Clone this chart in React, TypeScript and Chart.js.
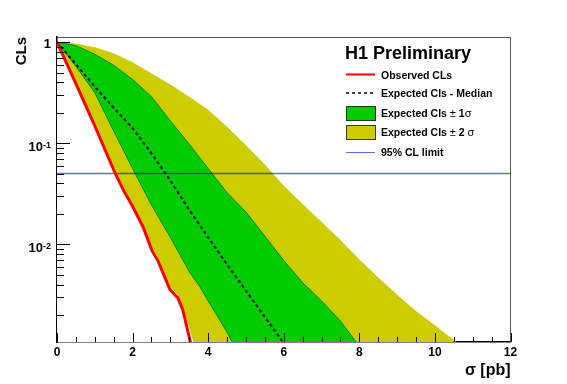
import React, { useEffect, useRef } from 'react';
import { Chart, registerables } from 'chart.js';

Chart.register(...registerables);

const FONT = "'Liberation Sans', Arial, Helvetica, sans-serif";

// ---- axis ranges & ticks ----
const X_MIN = 0;
const X_MAX = 12;
const Y_MIN = 0.00108;
const Y_MAX = 1.123;

const X_MAJOR_TICKS = [0, 2, 4, 6, 8, 10, 12];
const X_MINOR_TICKS = [0.5, 1, 1.5, 2.5, 3, 3.5, 4.5, 5, 5.5, 6.5, 7, 7.5, 8.5, 9, 9.5, 10.5, 11, 11.5];
const Y_MAJOR_TICKS = [1, 0.1, 0.01];
const Y_TICK_BASE = ['1', '10', '10'];
const Y_TICK_EXP = ['', '-1', '-2'];
const Y_DECADES = [0.001, 0.01, 0.1];
const Y_MINOR_MULT = [2, 3, 4, 5, 6, 7, 8, 9];

const CL_LIMIT = 0.05;

// ---- series (sigma in pb, CLs) ----
const OBS_X = [0, 0.5, 1.0, 1.53, 1.75, 2.01, 2.28, 2.51, 2.67, 2.99, 3.2, 3.33, 3.55];
const OBS_Y = [1, 0.389, 0.148, 0.0513, 0.0347, 0.0234, 0.0148, 0.0087, 0.0069, 0.00355, 0.00295, 0.00224, 0.001];

const MED_X = [0, 0.5, 1.0, 1.5, 2.0, 2.5, 3.0, 3.5, 4.0, 4.5, 5.0, 5.5, 6.0, 6.03];
const MED_Y = [1, 0.603, 0.363, 0.224, 0.141, 0.0794, 0.0427, 0.0219, 0.0117, 0.00631, 0.00347, 0.00191, 0.00105, 0.001];

const P1S_X = [0, 0.5, 1.0, 1.5, 2.0, 2.5, 3.0, 3.5, 4.0, 4.5, 5.0, 5.5, 6.0, 6.5, 7.0, 7.5, 7.98];
const P1S_Y = [1, 0.923, 0.759, 0.589, 0.427, 0.288, 0.166, 0.0977, 0.0562, 0.0324, 0.0209, 0.012, 0.00692, 0.00417, 0.00275, 0.00174, 0.001];

const M1S_X = [0, 0.5, 1.0, 1.5, 2.0, 2.5, 3.0, 3.5, 3.78, 4.0, 4.5, 4.68];
const M1S_Y = [1, 0.575, 0.316, 0.132, 0.0562, 0.0245, 0.0117, 0.00537, 0.0038, 0.00275, 0.00135, 0.001];

const P2S_X = [0, 0.5, 1.0, 1.5, 2.0, 2.5, 3.0, 3.5, 4.0, 4.5, 5.0, 5.5, 6.0, 6.5, 7.0, 7.5, 8.0, 8.5, 9.0, 9.5, 10.0, 10.68];
const P2S_Y = [1, 0.966, 0.891, 0.776, 0.631, 0.49, 0.38, 0.288, 0.214, 0.145, 0.0955, 0.0617, 0.038, 0.0251, 0.0166, 0.011, 0.00708, 0.00468, 0.00316, 0.00219, 0.00158, 0.001];

const M2S_X = [0, 0.5, 1.0, 1.53, 2.01, 2.51, 2.67, 2.99, 3.2, 3.33, 3.64];
const M2S_Y = [1, 0.398, 0.155, 0.0537, 0.0245, 0.00933, 0.00741, 0.0038, 0.00316, 0.0024, 0.001];

// ---- legend ----
const LEGEND_TITLE = 'H1 Preliminary';
const LEGEND_OBS = 'Observed CLs';
const LEGEND_MED = 'Expected Cls - Median';
const LEGEND_1S = ['Expected Cls ', '±', ' 1', 'σ'];
const LEGEND_2S = ['Expected Cls ', '±', ' 2 ', 'σ'];
const LEGEND_LIMIT = '95% CL limit';

const X_TITLE = 'σ [pb]';
const Y_TITLE = 'CLs';

const C_RED = '#ff0000';
const C_GREEN = '#00cc00';
const C_GREEN_EDGE = '#008a00';
const C_YELLOW = '#cccc00';
const C_BLUE = 'rgba(0,0,255,0.6)';

const zip = (xs: number[], ys: number[]) => xs.map((x, i) => ({ x, y: ys[i] }));

const decorPlugin = {
  id: 'decor',
  afterDatasetsDraw(chart: any) {
    const { ctx, chartArea: a } = chart;
    const xs = chart.scales.x;
    const ys = chart.scales.y;
    ctx.save();
    ctx.strokeStyle = '#000';
    ctx.lineWidth = 1;
    ctx.beginPath();
    X_MAJOR_TICKS.forEach((v) => {
      const px = Math.round(xs.getPixelForValue(v)) + 0.5;
      ctx.moveTo(px, a.bottom);
      ctx.lineTo(px, a.bottom - 9);
    });
    X_MINOR_TICKS.forEach((v) => {
      const px = Math.round(xs.getPixelForValue(v)) + 0.5;
      ctx.moveTo(px, a.bottom);
      ctx.lineTo(px, a.bottom - 5);
    });
    Y_MAJOR_TICKS.forEach((v) => {
      const py = Math.round(ys.getPixelForValue(v)) + 0.5;
      ctx.moveTo(a.left, py);
      ctx.lineTo(a.left + 13, py);
    });
    Y_DECADES.forEach((d) =>
      Y_MINOR_MULT.forEach((m) => {
        const v = d * m;
        if (v < Y_MIN || v > Y_MAX) return;
        const py = Math.round(ys.getPixelForValue(v)) + 0.5;
        ctx.moveTo(a.left, py);
        ctx.lineTo(a.left + 7, py);
      })
    );
    ctx.stroke();
    // top & right frame
    ctx.strokeStyle = '#555';
    ctx.beginPath();
    ctx.moveTo(a.left, Math.round(a.top) + 0.5);
    ctx.lineTo(Math.round(a.right) - 0.5, Math.round(a.top) + 0.5);
    ctx.lineTo(Math.round(a.right) - 0.5, a.bottom);
    ctx.stroke();
    ctx.restore();
  },
  afterDraw(chart: any) {
    const { ctx, chartArea: a } = chart;
    const ys = chart.scales.y;
    ctx.save();
    ctx.fillStyle = '#000';
    ctx.textBaseline = 'alphabetic';
    ctx.textAlign = 'left';
    // y tick labels with superscripts
    Y_MAJOR_TICKS.forEach((v, i) => {
      const py = ys.getPixelForValue(v);
      const base = Y_TICK_BASE[i];
      const exp = Y_TICK_EXP[i];
      ctx.font = `bold 13px ${FONT}`;
      const wb = ctx.measureText(base).width;
      ctx.font = `bold 9px ${FONT}`;
      const we = exp ? ctx.measureText(exp).width : 0;
      const right = a.left - 6;
      const x0 = right - wb - we;
      ctx.font = `bold 13px ${FONT}`;
      ctx.fillText(base, x0, py + (exp ? 8 : 5.5));
      if (exp) {
        ctx.font = `bold 9px ${FONT}`;
        ctx.fillText(exp, x0 + wb, py + 4.5);
      }
    });

    // legend
    const lx0 = 346;
    const lx1 = 375;
    const tx = 381;
    ctx.font = `bold 18px ${FONT}`;
    ctx.fillText(LEGEND_TITLE, 345, 59);

    const bold = `bold 10.5px ${FONT}`;
    const sym = `11px ${FONT}`;
    const drawSegs = (segs: string[], fonts: string[], x: number, y: number) => {
      segs.forEach((s, i) => {
        ctx.font = fonts[i];
        ctx.fillText(s, x, y);
        x += ctx.measureText(s).width;
      });
    };

    // observed
    ctx.strokeStyle = C_RED;
    ctx.lineWidth = 2;
    ctx.beginPath();
    ctx.moveTo(lx0, 74.5);
    ctx.lineTo(lx1, 74.5);
    ctx.stroke();
    ctx.font = bold;
    ctx.fillText(LEGEND_OBS, tx, 78.5);

    // median
    ctx.strokeStyle = '#000';
    ctx.lineWidth = 1.5;
    ctx.setLineDash([3, 3]);
    ctx.beginPath();
    ctx.moveTo(lx0, 93);
    ctx.lineTo(lx1, 93);
    ctx.stroke();
    ctx.setLineDash([]);
    ctx.font = bold;
    ctx.fillText(LEGEND_MED, tx, 96.5);

    // 1 sigma box
    ctx.fillStyle = C_GREEN;
    ctx.fillRect(lx0, 106, lx1 - lx0, 14);
    ctx.strokeStyle = '#1a3a1a';
    ctx.lineWidth = 1;
    ctx.strokeRect(lx0 + 0.5, 106.5, lx1 - lx0, 14);
    ctx.fillStyle = '#000';
    drawSegs(LEGEND_1S, [bold, sym, bold, sym], tx, 117);

    // 2 sigma box
    ctx.fillStyle = C_YELLOW;
    ctx.fillRect(lx0, 125, lx1 - lx0, 14);
    ctx.strokeStyle = '#3a3a1a';
    ctx.strokeRect(lx0 + 0.5, 125.5, lx1 - lx0, 14);
    ctx.fillStyle = '#000';
    drawSegs(LEGEND_2S, [bold, sym, bold, sym], tx, 136);

    // limit
    ctx.strokeStyle = C_BLUE;
    ctx.lineWidth = 1;
    ctx.beginPath();
    ctx.moveTo(lx0, 152.5);
    ctx.lineTo(lx1, 152.5);
    ctx.stroke();
    ctx.font = bold;
    ctx.fillText(LEGEND_LIMIT, tx, 156);

    ctx.restore();
  },
};

export default function App() {
  const ref = useRef<HTMLCanvasElement>(null);

  useEffect(() => {
    const clear = 'rgba(0,0,0,0)';
    const chart = new Chart(ref.current as HTMLCanvasElement, {
      type: 'line',
      data: {
        datasets: [
          {
            label: LEGEND_OBS,
            data: zip(OBS_X, OBS_Y),
            borderColor: C_RED,
            borderWidth: 3,
            pointRadius: 0,
            fill: false,
            order: 0,
            clip: 0,
          },
          {
            label: LEGEND_MED,
            data: zip(MED_X, MED_Y),
            borderColor: '#000',
            borderWidth: 2,
            borderDash: [3, 3],
            pointRadius: 0,
            fill: false,
            order: 1,
            clip: 0,
          },
          {
            label: LEGEND_LIMIT,
            data: [
              { x: X_MIN, y: CL_LIMIT },
              { x: X_MAX, y: CL_LIMIT },
            ],
            borderColor: C_BLUE,
            borderWidth: 1.5,
            pointRadius: 0,
            fill: false,
            order: 2,
            clip: 0,
          },
          {
            label: '-2 sigma',
            data: zip(M2S_X, M2S_Y),
            borderColor: clear,
            borderWidth: 1,
            backgroundColor: '#ffffff',
            pointRadius: 0,
            fill: 'start',
            order: 3,
            clip: 0,
          },
          {
            label: '-1 sigma',
            data: zip(M1S_X, M1S_Y),
            borderColor: C_GREEN_EDGE,
            borderWidth: 1,
            backgroundColor: C_YELLOW,
            pointRadius: 0,
            fill: 'start',
            order: 4,
            clip: 0,
          },
          {
            label: '+1 sigma',
            data: zip(P1S_X, P1S_Y),
            borderColor: C_GREEN_EDGE,
            borderWidth: 1,
            backgroundColor: C_GREEN,
            pointRadius: 0,
            fill: 'start',
            order: 5,
            clip: 0,
          },
          {
            label: '+2 sigma',
            data: zip(P2S_X, P2S_Y),
            borderColor: clear,
            borderWidth: 1,
            backgroundColor: C_YELLOW,
            pointRadius: 0,
            fill: 'start',
            order: 6,
            clip: 0,
          },
        ],
      },
      options: {
        responsive: false,
        animation: false,
        devicePixelRatio: 1,
        events: [],
        layout: { padding: { top: 37, right: 56.5, left: 0, bottom: 0 } },
        plugins: {
          legend: { display: false },
          tooltip: { enabled: false },
        },
        scales: {
          x: {
            type: 'linear',
            min: X_MIN,
            max: X_MAX,
            afterBuildTicks: (s: any) => {
              s.ticks = X_MAJOR_TICKS.map((v) => ({ value: v }));
            },
            ticks: {
              autoSkip: false,
              maxRotation: 0,
              padding: 3,
              color: '#000',
              font: { family: FONT, size: 12, weight: 'bold' },
              callback: (v: any) => String(v),
            },
            grid: { display: false, drawTicks: false },
            border: { display: true, color: '#000', width: 1.5 },
            title: {
              display: true,
              text: X_TITLE,
              align: 'end',
              color: '#000',
              font: { family: FONT, size: 16, weight: 'bold' },
              padding: { top: 0, bottom: 4 },
            },
            afterFit: (s: any) => {
              s.height = 42;
            },
          },
          y: {
            type: 'logarithmic',
            min: Y_MIN,
            max: Y_MAX,
            afterBuildTicks: (s: any) => {
              s.ticks = Y_MAJOR_TICKS.map((v) => ({ value: v }));
            },
            ticks: { display: false },
            grid: { display: false, drawTicks: false },
            border: { display: true, color: '#000', width: 1.5 },
            title: {
              display: true,
              text: Y_TITLE,
              align: 'end',
              color: '#000',
              font: { family: FONT, size: 15, weight: 'bold' },
              padding: { top: 13, bottom: 0 },
            },
            afterFit: (s: any) => {
              s.width = 57;
            },
          },
        },
      } as any,
      plugins: [decorPlugin],
    });
    return () => chart.destroy();
  }, []);

  return (
    <div style={{ position: 'absolute', left: 0, top: 0, width: 567, height: 384, background: '#fff' }}>
      <canvas ref={ref} width={567} height={384} style={{ display: 'block', width: 567, height: 384 }} />
    </div>
  );
}
